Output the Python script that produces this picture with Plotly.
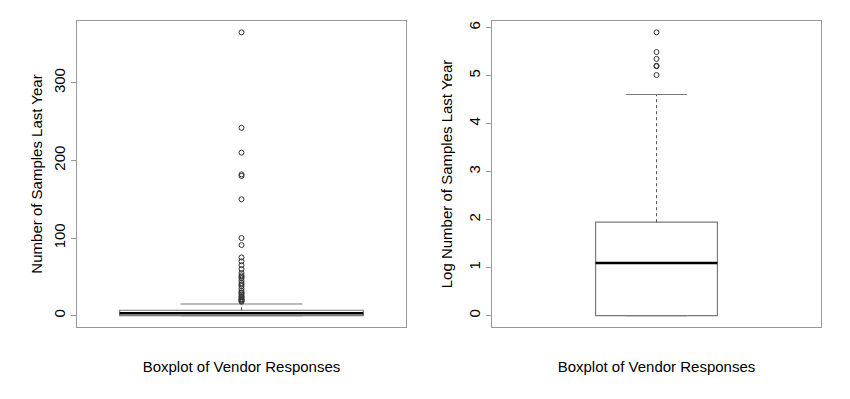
import numpy as np
import plotly.graph_objects as go

# ---- data ----
# summary stats of raw samples (n per vendor)
raw_stats = {"q1": 0, "median": 3, "q3": 7, "low": 0, "high": 15}
raw_outliers = [18, 19, 20, 21, 22, 24, 25, 27, 29, 30, 32, 35, 38, 40, 42, 45,
                48, 50, 52, 55, 60, 65, 70, 75, 91, 100, 150, 180, 182, 210, 242, 365]
# summary stats of natural-log samples
log_stats = {"q1": 0.0, "median": 1.0986, "q3": 1.9459, "low": 0.0, "high": 4.6052}
log_outliers = [5.0106, 5.1930, 5.2040, 5.3471, 5.4889, 5.8999]

y_titles = ["Number of Samples Last Year", "Log Number of Samples Last Year"]
x_title = "Boxplot of Vendor Responses"
left_ticks = [0, 100, 200, 300]
right_ticks = [0, 1, 2, 3, 4, 5, 6]

W, H = 850, 399
FONT = "Liberation Sans, Arial, Helvetica, sans-serif"
FRAME = "#999999"
BOX = "#7a7a7a"
FS = 15

fig = go.Figure()

def add_boxplot(stats, outliers, xa, ya, bw):
    pos = 1.0
    # box body
    fig.add_trace(go.Box(
        x=[pos], q1=[stats["q1"]], median=[stats["median"]], q3=[stats["q3"]],
        lowerfence=[stats["q1"]], upperfence=[stats["q3"]], width=bw,
        fillcolor="white", line=dict(color=BOX, width=1.2),
        xaxis=xa, yaxis=ya, showlegend=False, hoverinfo="skip"))
    # dashed whiskers
    for a, b in [(stats["q3"], stats["high"]), (stats["low"], stats["q1"])]:
        if b != a:
            fig.add_trace(go.Scatter(x=[pos, pos], y=[a, b], mode="lines",
                                     line=dict(color="#555", width=1, dash="3px,3px"),
                                     xaxis=xa, yaxis=ya, showlegend=False, hoverinfo="skip"))
    # whisker caps
    for v in [stats["high"], stats["low"]]:
        fig.add_trace(go.Scatter(x=[pos - bw / 4, pos + bw / 4], y=[v, v], mode="lines",
                                 line=dict(color=BOX, width=1.2),
                                 xaxis=xa, yaxis=ya, showlegend=False, hoverinfo="skip"))
    # thick median
    fig.add_trace(go.Scatter(x=[pos - bw / 2, pos + bw / 2], y=[stats["median"]] * 2,
                             mode="lines", line=dict(color="black", width=2.5),
                             xaxis=xa, yaxis=ya, showlegend=False, hoverinfo="skip"))
    # outliers
    fig.add_trace(go.Scatter(x=[pos] * len(outliers), y=outliers, mode="markers",
                             marker=dict(symbol="circle-open", size=5,
                                         color="#333", line=dict(width=1, color="#333")),
                             xaxis=xa, yaxis=ya, showlegend=False, hoverinfo="skip"))

add_boxplot(raw_stats, raw_outliers, "x", "y", 0.8)
add_boxplot(log_stats, log_outliers, "x2", "y2", 0.4)

def r_range(lo, hi):
    d = (hi - lo) * 0.04
    return [lo - d, hi + d]

axis_common = dict(showline=True, mirror=True, linecolor=FRAME, linewidth=1.2,
                   showgrid=False, zeroline=False, automargin=False)

hi1 = max(raw_outliers)
hi2 = max(log_outliers)

fig.update_layout(
    width=W, height=H, plot_bgcolor="white", paper_bgcolor="white",
    margin=dict(l=0, r=0, t=21, b=72),
    font=dict(family=FONT, color="black", size=FS),
    xaxis=dict(domain=[77 / W, 406 / W], range=[0.46, 1.54], showticklabels=False, ticks="",
               title=dict(text=x_title, standoff=34, font=dict(size=FS)), **axis_common),
    xaxis2=dict(domain=[492 / W, 821 / W], range=[0.46, 1.54], showticklabels=False, ticks="",
                anchor="y2",
                title=dict(text=x_title, standoff=34, font=dict(size=FS)), **axis_common),
    yaxis=dict(range=r_range(0, hi1), tickvals=left_ticks, ticks="outside", ticklen=5,
               tickcolor=FRAME, tickangle=-90, tickfont=dict(size=FS),
               title=dict(text=y_titles[0], standoff=4, font=dict(size=FS)), **axis_common),
    yaxis2=dict(range=r_range(0, hi2), tickvals=right_ticks, ticks="outside", ticklen=5,
                tickcolor=FRAME, tickangle=-90, tickfont=dict(size=FS), anchor="x2",
                title=dict(text=y_titles[1], standoff=9, font=dict(size=FS)), **axis_common),
)

fig.write_html("out.html", config={"displayModeBar": False},
               post_script="document.body.style.margin='0';")
